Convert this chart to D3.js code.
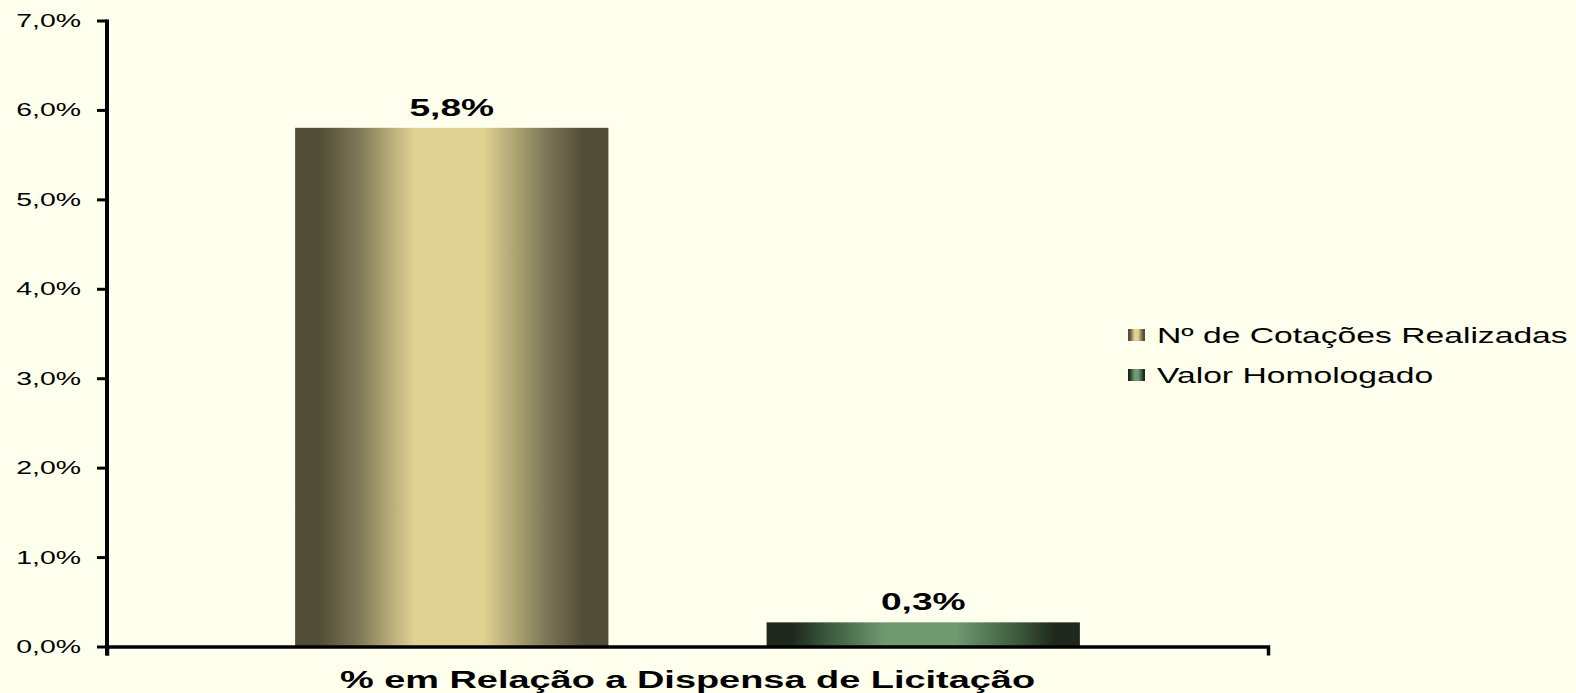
<!DOCTYPE html>
<html lang="pt">
<head>
<meta charset="utf-8">
<script src="https://cdnjs.cloudflare.com/ajax/libs/d3/7.8.5/d3.min.js"></script>
<style>
  body { margin: 0; background: #ffffee; overflow: hidden; }
  svg { display: block; font-family: "Liberation Sans", Arial, sans-serif; }
</style>
</head>
<body>
<div id="chart"></div>
<script>
// data
var category = "% em Relação a Dispensa de Licitação";
var seriesNames = ["Nº de Cotações Realizadas", "Valor Homologado"];
var seriesValues = [5.8, 0.27];
var yTicks = [0, 1, 2, 3, 4, 5, 6, 7];

var W = 1576, H = 693;
var sx = 1.58; // text in the original is stretched sideways

var svg = d3.select("#chart").append("svg")
  .attr("width", W).attr("height", H);

svg.append("rect").attr("width", W).attr("height", H).attr("fill", "#ffffee");

// gradients
var defs = svg.append("defs");
var grads = [
  { id: "g0", dark: "#524d37", mid: "#7e7756", light: "#dfd292" },
  { id: "g1", dark: "#1e281d", mid: "#3d5a3d", light: "#6f9a70" }
];
grads.forEach(function (g) {
  var lg = defs.append("linearGradient").attr("id", g.id)
    .attr("x1", "0%").attr("x2", "100%").attr("y1", "0%").attr("y2", "0%");
  [[0, g.dark], [0.08, g.dark], [0.2, g.mid], [0.38, g.light], [0.6, g.light], [0.8, g.mid], [0.92, g.dark], [1, g.dark]]
    .forEach(function (s) {
      lg.append("stop").attr("offset", s[0]).attr("stop-color", s[1]);
    });
});

// scales
var y = d3.scaleLinear().domain([0, 7]).range([646.5, 20.5]);
var x0 = d3.scaleBand().domain([category]).range([107, 1268]);
var x1 = d3.scaleBand().domain(seriesNames).range([0, x0.bandwidth()])
  .paddingInner(0.3355).paddingOuter(0.399);

function stretchedText(parent, x, yy, txt, size, weight, anchor) {
  var g = parent.append("g").attr("transform", "translate(" + x + "," + yy + ") scale(" + sx + ",1)");
  return g.append("text").attr("x", 0).attr("y", 0)
    .attr("font-size", size).attr("font-weight", weight)
    .attr("text-anchor", anchor).attr("fill", "#000").text(txt);
}

// bars
var bars = svg.append("g");
seriesNames.forEach(function (s, i) {
  var bx = x0(category) + x1(s);
  bars.append("rect")
    .attr("x", bx).attr("y", y(seriesValues[i]))
    .attr("width", x1.bandwidth())
    .attr("height", y(0) - y(seriesValues[i]))
    .attr("fill", "url(#g" + i + ")");
  stretchedText(bars, bx + x1.bandwidth() / 2, y(seriesValues[i]) - 12,
    d3.format(".1f")(seriesValues[i]).replace(".", ",") + "%", 23.5, "bold", "middle");
});

// y axis
var yAxis = svg.append("g").attr("transform", "translate(107,0)")
  .call(d3.axisLeft(y).tickValues(yTicks).tickSize(10).tickSizeOuter(0).tickFormat(function () { return ""; }));
yAxis.select(".domain").attr("stroke", "#000").attr("stroke-width", 4)
  .attr("d", "M0," + (y(7) - 1) + "V" + (y(0) + 9));
yAxis.selectAll(".tick line").attr("stroke", "#000").attr("stroke-width", 3);
yTicks.forEach(function (t) {
  stretchedText(svg, 81, y(t) + 6.5, d3.format(".1f")(t).replace(".", ",") + "%", 18, "normal", "end");
});

// x axis
var xAxis = svg.append("g").attr("transform", "translate(0," + y(0) + ")")
  .call(d3.axisBottom(x0).tickSize(0).tickSizeOuter(9).tickFormat(function () { return ""; }));
xAxis.select(".domain").attr("stroke", "#000").attr("stroke-width", 3.5);
xAxis.selectAll(".tick line").remove();

stretchedText(svg, x0(category) + x0.bandwidth() / 2, 688, category, 24, "bold", "middle");

// legend
var legend = svg.append("g");
seriesNames.forEach(function (s, i) {
  var ly = 335 + i * 40;
  legend.append("rect").attr("x", 1128).attr("y", ly - 6).attr("width", 17).attr("height", 12)
    .attr("fill", "url(#g" + i + ")");
  stretchedText(legend, 1157, ly + 8, s, 21.3, "normal", "start");
});
</script>
</body>
</html>
